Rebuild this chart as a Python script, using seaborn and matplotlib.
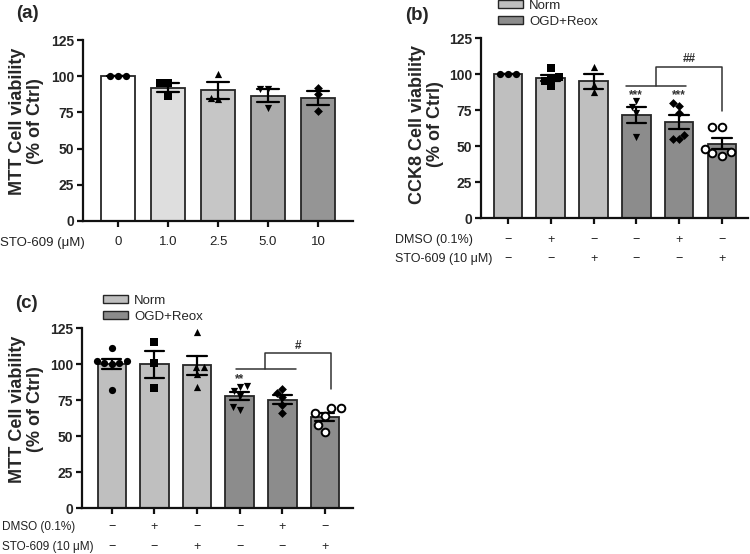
import numpy as np
import pandas as pd
import matplotlib
matplotlib.use("Agg")
import matplotlib.pyplot as plt
import matplotlib.transforms as mtransforms
from matplotlib.patches import Patch
import seaborn as sns

sns.set_theme(style="white")
plt.rcParams['font.family'] = ['Liberation Sans', 'DejaVu Sans']

# ---------------- data ----------------
# panel (a): MTT, STO-609 dose
a_groups = ["0", "1.0", "2.5", "5.0", "10"]
a_points = [
    [100, 100, 100],
    [95, 95, 86],
    [101.5, 85, 84],
    [91, 91, 78],
    [92, 87.5, 76],
]
a_markers = ["o", "s", "^", "v", "D"]
a_colors = ["#ffffff", "#dedede", "#c6c6c6", "#acacac", "#959595"]

# panel (b): CCK8
b_groups = ["g1", "g2", "g3", "g4", "g5", "g6"]
b_points = [
    [100, 100, 100],
    [104, 98, 97, 92, 95],
    [104.6, 92.5, 87.4],
    [81, 77, 73, 56],
    [78, 80, 73, 57.5, 55, 55],
    [63.5, 63.5, 48, 46, 45, 43],
]
# panel (c): MTT
c_groups = ["g1", "g2", "g3", "g4", "g5", "g6"]
c_points = [
    [111, 102, 102, 101, 101, 100, 82],
    [115, 101, 83],
    [122, 98, 98, 93, 84],
    [85, 84, 81, 78, 68, 70],
    [79.6, 82.4, 76.9, 71.5, 65.8],
    [69.2, 69.2, 65.8, 63.9, 57.6, 53],
]
bc_markers = ["o", "s", "^", "v", "D", "open"]
cond_labels = ["Norm", "OGD+Reox"]
cond_colors = {"Norm": "#bfbfbf", "OGD+Reox": "#8c8c8c"}
bc_cond = ["Norm", "Norm", "Norm", "OGD+Reox", "OGD+Reox", "OGD+Reox"]
dmso_row = ["−", "+", "−", "−", "+", "−"]
sto_row = ["−", "−", "+", "−", "−", "+"]
yticks = [0, 25, 50, 75, 100, 125]

W, H = 750, 554
fig = plt.figure(figsize=(W / 100, H / 100), dpi=100)


def px_axes(left, top, right, bottom):
    return fig.add_axes([left / W, 1 - bottom / H, (right - left) / W, (bottom - top) / H])


def make_df(groups, points):
    rows = []
    for g, pts in zip(groups, points):
        for v in pts:
            rows.append({"group": g, "value": v})
    return pd.DataFrame(rows)


def draw_panel(ax, groups, points, markers, colors, ylabel, xlim, label_xy):
    df = make_df(groups, points)
    sns.barplot(data=df, x="group", y="value", hue="group", order=groups,
                hue_order=groups, palette=dict(zip(groups, colors)), legend=False,
                errorbar="se", capsize=0.45, width=0.67,
                err_kws={"color": "black", "linewidth": 1.6},
                edgecolor="#262626", linewidth=1.3, ax=ax)
    for g, m in zip(groups, markers):
        sub = df[df["group"] == g]
        if m == "open":
            sns.swarmplot(data=sub, x="group", y="value", order=groups, marker="o",
                          color="white", edgecolor="black", linewidth=1.4, size=5.5, ax=ax)
        else:
            sz = 4.5 if m == "D" else 5.2
            sns.swarmplot(data=sub, x="group", y="value", order=groups, marker=m,
                          color="black", linewidth=0, size=sz, ax=ax)
    for coll in ax.collections:
        coll.set_clip_on(False)
    ax.set_ylim(0, 125)
    ax.set_xlim(*xlim)
    ax.set_yticks(yticks)
    ax.set_yticklabels([str(t) for t in yticks], fontsize=10, fontweight="bold")
    ax.set_xlabel("")
    ax.set_ylabel(ylabel, fontsize=13, fontweight="bold", linespacing=1.05)
    ax.yaxis.set_label_coords(*label_xy)
    for s in ["top", "right"]:
        ax.spines[s].set_visible(False)
    for s in ["left", "bottom"]:
        ax.spines[s].set_linewidth(1.6)
        ax.spines[s].set_color("#111111")
    ax.tick_params(axis="both", direction="out", length=4.5, width=1.6, color="#111111",
                   left=True, bottom=True, pad=2)


# ---------------- panel (a) ----------------
ax_a = px_axes(83, 40, 353, 221)
draw_panel(ax_a, a_groups, a_points, a_markers, a_colors,
           "MTT Cell viability\n(% of Ctrl)", (-0.7, 4.7), (-0.145, 0.55))
ax_a.set_xticks(range(len(a_groups)))
ax_a.set_xticklabels(a_groups, fontsize=9.5, color="#222222")
ax_a.tick_params(axis="x", pad=6)
fig.text(0 / W, 1 - 243 / H, "STO-609 (μM)", fontsize=9.5, ha="left", va="center", color="#222222")
fig.text(16 / W, 1 - 14 / H, "(a)", fontsize=13.5, fontweight="bold", ha="left", va="center")

# ---------------- panel (b) ----------------
ax_b = px_axes(481, 38, 748, 218)
b_colors = [cond_colors[c] for c in bc_cond]
draw_panel(ax_b, b_groups, b_points, bc_markers, b_colors,
           "CCK8 Cell viability\n(% of Ctrl)", (-0.63, 5.61), (-0.14, 0.52))
ax_b.set_xticks(range(len(b_groups)))
ax_b.set_xticklabels([])
fig.text(405 / W, 1 - 15 / H, "(b)", fontsize=13.5, fontweight="bold", ha="left", va="center")

# ---------------- panel (c) ----------------
ax_c = px_axes(82, 328, 353, 508)
c_colors = [cond_colors[c] for c in bc_cond]
draw_panel(ax_c, c_groups, c_points, bc_markers, c_colors,
           "MTT Cell viability\n(% of Ctrl)", (-0.70, 5.66), (-0.14, 0.55))
ax_c.set_xticks(range(len(c_groups)))
ax_c.set_xticklabels([])
fig.text(15 / W, 1 - 303 / H, "(c)", fontsize=13.5, fontweight="bold", ha="left", va="center")

# condition rows under (b) and (c)
def sign_rows(ax, y_dmso, y_sto):
    tr = mtransforms.blended_transform_factory(ax.transData, fig.transFigure)
    for i, (d, s) in enumerate(zip(dmso_row, sto_row)):
        ax.text(i, y_dmso, d, transform=tr, ha="center", va="center", fontsize=9, color="#222222")
        ax.text(i, y_sto, s, transform=tr, ha="center", va="center", fontsize=9, color="#222222")

sign_rows(ax_b, 1 - 240 / H, 1 - 259 / H)
fig.text(473 / W, 1 - 240 / H, "DMSO (0.1%)", fontsize=9, ha="right", va="center", color="#222222")
fig.text(492 / W, 1 - 259 / H, "STO-609 (10 μM)", fontsize=9, ha="right", va="center", color="#222222")

sign_rows(ax_c, 1 - 527 / H, 1 - 547 / H)
fig.text(2 / W, 1 - 527 / H, "DMSO (0.1%)", fontsize=8.5, ha="left", va="center", color="#222222")
fig.text(2 / W, 1 - 547 / H, "STO-609 (10 μM)", fontsize=8.5, ha="left", va="center", color="#222222")

# legends
handles = [Patch(facecolor=cond_colors[c], edgecolor="#262626", linewidth=1.0, label=c) for c in cond_labels]
for ax, (lx, ly) in [(ax_b, (498, 0)), (ax_c, (103, 295))]:
    ax.legend(handles=handles, loc="upper left", bbox_to_anchor=(lx / W, 1 - ly / H),
              bbox_transform=fig.transFigure, frameon=False, fontsize=9.5,
              handlelength=1.9, handleheight=0.55, handletextpad=0.45,
              labelspacing=0.3, borderpad=0, borderaxespad=0)

# significance annotations
def bracket(ax, x_left, x_right, y_low, x_mid, y_top, x_end, y_end, label, y_label):
    kw = dict(color="#333333", linewidth=1.1, clip_on=False)
    ax.plot([x_left, x_right], [y_low, y_low], **kw)
    ax.plot([x_mid, x_mid, x_end, x_end], [y_low, y_top, y_top, y_end], **kw)
    ax.text((x_mid + x_end) / 2, y_label, label, ha="center", va="center",
            fontsize=8.5, fontweight="bold", color="#333333")

bracket(ax_b, 3 - 0.23, 4 + 0.16, 91.8, 3.47, 104.8, 5.0, 74, "##", 110.5)
ax_b.text(3, 85.5, "***", ha="center", va="center", fontsize=8.5, fontweight="bold", color="#333333")
ax_b.text(4, 85.5, "***", ha="center", va="center", fontsize=8.5, fontweight="bold", color="#333333")

bracket(ax_c, 3 - 0.08, 4 + 0.32, 96.8, 3.59, 107.8, 5.14, 82.4, "#", 112.5)
ax_c.text(3, 89.5, "**", ha="center", va="center", fontsize=8.5, fontweight="bold", color="#333333")

fig.savefig("out.png", dpi=100)
